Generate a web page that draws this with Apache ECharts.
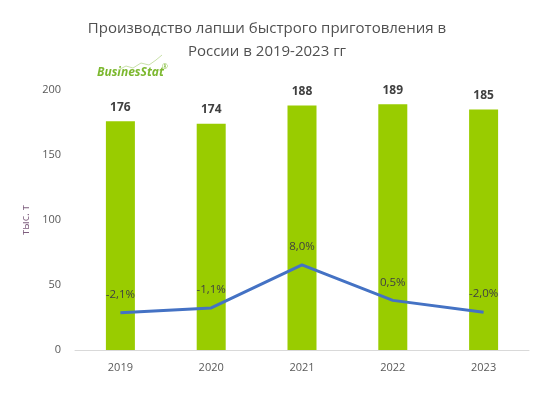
<!DOCTYPE html>
<html>
<head>
<meta charset="utf-8">
<script src="https://cdn.jsdelivr.net/npm/echarts@6/dist/echarts.min.js"></script>
<style>
  html, body { margin: 0; padding: 0; background: #fff; }
  #chart { width: 554px; height: 396px; }
</style>
</head>
<body>
<div id="chart"></div>
<script>
const years = ["2019", "2020", "2021", "2022", "2023"];
const production = [176, 174, 188, 189, 185];
const growth = [-2.1, -1.1, 8.0, 0.5, -2.0];
const yTicks = [0, 50, 100, 150, 200];

const fmtPct = (v) => v.toFixed(1).replace(".", ",") + "%";

const options = {
  animation: false,
  textStyle: { fontFamily: "Open Sans" },
  title: {
    text: "Производство лапши быстрого приготовления в\nРоссии в 2019-2023 гг",
    left: 262,
    top: 12,
    textAlign: "center",
    textStyle: {
      fontFamily: "Open Sans",
      fontSize: 15,
      fontWeight: "normal",
      color: "#505050",
      lineHeight: 23,
    },
  },
  graphic: [
    {
      type: "text",
      left: 97,
      top: 67,
      style: {
        text: "BusinesStat",
        font: "italic bold 12px 'Open Sans'",
        fill: "#7cb82f",
      },
    },
    {
      type: "text",
      left: 162,
      top: 63,
      style: { text: "®", font: "7px 'Open Sans'", fill: "#7cb82f" },
    },
    {
      type: "polyline",
      shape: {
        points: [[118, 70], [126, 66], [133, 68], [141, 63], [149, 65], [156, 60], [162, 55]],
      },
      style: { stroke: "#c8e0a8", lineWidth: 1, fill: null },
    },
  ],
  grid: { left: 75, right: 25, top: 90, bottom: 46 },
  xAxis: {
    type: "category",
    data: years,
    axisLine: { lineStyle: { color: "#d9d9d9" } },
    axisTick: { show: false },
    axisLabel: { color: "#595959", fontSize: 11, margin: 12 },
  },
  yAxis: [
    {
      type: "value",
      min: yTicks[0],
      max: yTicks[yTicks.length - 1],
      interval: 50,
      name: "тыс. т",
      nameLocation: "middle",
      nameGap: 40,
      nameTextStyle: { color: "#7f5f7f", fontSize: 11 },
      splitLine: { show: false },
      axisLine: { show: false },
      axisTick: { show: false },
      axisLabel: { color: "#595959", fontSize: 11, margin: 14 },
    },
    {
      type: "value",
      min: -10,
      max: 45,
      show: false,
      splitLine: { show: false },
    },
  ],
  series: [
    {
      name: "Производство",
      type: "bar",
      data: production,
      barWidth: 29,
      itemStyle: { color: "#99cc00" },
      label: {
        show: true,
        position: "top",
        distance: 8,
        fontWeight: "bold",
        fontSize: 12,
        color: "#404040",
      },
    },
    {
      name: "Темп прироста",
      type: "line",
      yAxisIndex: 1,
      data: growth,
      symbol: "circle",
      symbolSize: 0.1,
      showSymbol: true,
      z: 3,
      itemStyle: { color: "#4472c4" },
      lineStyle: { color: "#4472c4", width: 3 },
      label: {
        show: true,
        position: "top",
        distance: 12,
        fontSize: 11.5,
        color: "#404040",
        formatter: (p) => fmtPct(p.value),
      },
    },
  ],
};

document.addEventListener("DOMContentLoaded", function () {
  const chart = echarts.init(document.getElementById("chart"));
  chart.setOption(options);
});
</script>
</body>
</html>
